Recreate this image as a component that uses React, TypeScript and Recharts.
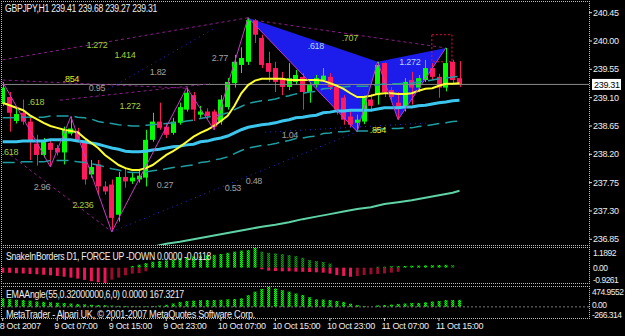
import React from "react";
import {
  ComposedChart,
  Bar,
  Line,
  XAxis,
  YAxis,
  ReferenceLine,
  ReferenceArea,
  ReferenceDot,
} from "recharts";

// ---- GBPJPY H1 candles (8 Oct 23:00 .. 11 Oct 18:00) ----
const opens = [
  239.00, 239.11, 238.73, 238.86, 238.72, 238.37, 238.19, 238.38, 238.30, 238.23,
  238.53, 238.56, 238.40, 237.88, 238.04, 237.69, 237.72, 237.24, 237.84, 237.77,
  237.80, 237.83, 238.43, 238.72, 238.64, 238.54, 238.70, 238.91, 239.14, 238.83,
  238.88, 238.88, 238.72, 238.95, 239.33, 239.62, 239.67, 240.33, 240.05, 239.65,
  239.57, 239.41, 239.27, 239.35, 239.43, 239.19, 239.30, 239.38, 239.43, 239.27,
  239.10, 238.80, 238.70, 238.72, 239.07, 239.14, 239.65, 239.22, 239.02, 238.95,
  239.38, 239.26, 239.38, 239.57, 239.43, 239.26, 239.67, 239.41,
];
const highs = [
  239.35, 239.19, 238.95, 239.07, 238.78, 238.51, 238.46, 238.43, 238.35, 238.64,
  238.80, 238.62, 238.46, 238.11, 238.11, 237.77, 237.80, 237.92, 237.99, 237.92,
  237.95, 238.59, 238.86, 239.02, 238.68, 238.78, 239.02, 239.26, 239.19, 238.97,
  238.93, 238.91, 239.14, 239.41, 239.78, 239.90, 240.37, 240.35, 240.10, 239.83,
  239.67, 239.51, 239.65, 239.54, 239.49, 239.35, 239.46, 239.57, 239.49, 239.30,
  239.14, 238.91, 238.83, 239.13, 239.15, 239.67, 239.66, 239.27, 239.19, 239.41,
  239.51, 239.46, 239.70, 239.65, 239.48, 239.89, 239.70, 239.68,
];
const lows = [
  238.97, 238.56, 238.69, 238.67, 238.11, 238.02, 238.15, 238.00, 238.18, 238.04,
  238.50, 238.40, 237.72, 237.83, 237.56, 237.56, 236.97, 237.13, 237.67, 237.73,
  237.75, 237.69, 238.40, 238.59, 238.46, 238.51, 238.67, 238.88, 238.73, 238.78,
  238.76, 238.59, 238.67, 238.91, 239.26, 239.49, 239.62, 239.97, 239.57, 239.35,
  239.19, 239.14, 239.22, 239.30, 238.91, 239.02, 239.26, 239.35, 239.22, 238.83,
  238.67, 238.62, 238.56, 238.68, 238.88, 238.99, 239.11, 239.06, 238.75, 238.88,
  238.99, 239.19, 239.35, 239.38, 239.10, 239.20, 239.33, 239.27,
];
const closes = [
  239.26, 238.86, 238.84, 238.72, 238.40, 238.19, 238.40, 238.27, 238.23, 238.59,
  238.61, 238.43, 237.80, 238.00, 237.69, 237.61, 237.19, 237.84, 237.77, 237.83,
  237.86, 238.43, 238.72, 238.62, 238.51, 238.72, 238.95, 239.18, 238.91, 238.88,
  238.81, 238.64, 239.07, 239.35, 239.67, 239.73, 240.33, 240.10, 239.62, 239.51,
  239.35, 239.27, 239.41, 239.46, 239.19, 239.30, 239.41, 239.45, 239.27, 238.91,
  238.75, 238.67, 238.75, 239.10, 238.97, 239.62, 239.19, 239.11, 238.95, 239.35,
  239.26, 239.41, 239.57, 239.43, 239.26, 239.65, 239.38, 239.31,
];

// moving averages
const maYellow = [
  239.02, 238.98, 238.94, 238.90, 238.82, 238.76, 238.70, 238.65, 238.62, 238.59,
  238.57, 238.55, 238.46, 238.38, 238.30, 238.19, 238.11, 238.03, 237.98, 237.95,
  237.95, 237.98, 238.03, 238.11, 238.19, 238.25, 238.32, 238.40, 238.48, 238.54,
  238.59, 238.65, 238.73, 238.81, 238.97, 239.17, 239.30, 239.37, 239.40, 239.40,
  239.40, 239.40, 239.38, 239.38, 239.38, 239.38, 239.38, 239.37, 239.33, 239.29,
  239.24, 239.17, 239.11, 239.11, 239.13, 239.16, 239.17, 239.17, 239.16, 239.16,
  239.17, 239.21, 239.24, 239.25, 239.29, 239.32, 239.32, 239.33,
];
const maCyan = [
  238.40, 238.40, 238.40, 238.41, 238.41, 238.41, 238.41, 238.43, 238.43, 238.43,
  238.43, 238.41, 238.40, 238.38, 238.36, 238.33, 238.30, 238.28, 238.25, 238.24,
  238.24, 238.25, 238.27, 238.28, 238.30, 238.32, 238.33, 238.35, 238.36, 238.40,
  238.41, 238.44, 238.46, 238.49, 238.54, 238.59, 238.63, 238.65, 238.67, 238.68,
  238.70, 238.73, 238.75, 238.78, 238.79, 238.81, 238.82, 238.86, 238.87, 238.89,
  238.89, 238.90, 238.90, 238.90, 238.90, 238.92, 238.94, 238.94, 238.94, 238.95,
  238.95, 238.97, 238.98, 239.00, 239.02, 239.03, 239.05, 239.06,
];
const bandUpper = [
  238.78, 238.78, 238.78, 238.79, 238.79, 238.79, 238.79, 238.81, 238.81, 238.81,
  238.81, 238.79, 238.78, 238.76, 238.72, 238.70, 238.69, 238.67, 238.66, 238.65,
  238.65, 238.66, 238.67, 238.68, 238.69, 238.70, 238.71, 238.73, 238.74, 238.77,
  238.79, 238.81, 238.83, 238.86, 238.91, 238.96, 239.01, 239.03, 239.05, 239.06,
  239.08, 239.11, 239.13, 239.16, 239.17, 239.19, 239.20, 239.24, 239.25, 239.27,
  239.27, 239.28, 239.28, 239.28, 239.28, 239.30, 239.32, 239.32, 239.32, 239.33,
  239.33, 239.35, 239.36, 239.38, 239.40, 239.41, 239.43, 239.44,
];
const bandLower = [
  238.07, 238.07, 238.07, 238.08, 238.08, 238.08, 238.08, 238.10, 238.10, 238.10,
  238.10, 238.08, 238.07, 238.05, 238.03, 238.00, 237.97, 237.95, 237.92, 237.91,
  237.91, 237.92, 237.94, 237.95, 237.97, 237.99, 238.00, 238.02, 238.03, 238.07,
  238.08, 238.11, 238.13, 238.16, 238.21, 238.26, 238.30, 238.32, 238.34, 238.35,
  238.37, 238.40, 238.42, 238.45, 238.46, 238.48, 238.49, 238.53, 238.54, 238.56,
  238.56, 238.57, 238.57, 238.57, 238.57, 238.59, 238.61, 238.61, 238.61, 238.62,
  238.62, 238.64, 238.65, 238.67, 238.69, 238.70, 238.72, 238.73,
];
// slow MA (only the part that is visible)
const maSlowPts = [
  [20, 236.68], [22, 236.73], [24, 236.78], [26, 236.81], [28, 236.85], [30, 236.89],
  [32, 236.93], [34, 236.97], [36, 237.01], [38, 237.05], [40, 237.08], [42, 237.12],
  [44, 237.17], [46, 237.21], [48, 237.25], [50, 237.29], [52, 237.33], [54, 237.36],
  [56, 237.41], [58, 237.44], [60, 237.47], [62, 237.51], [64, 237.55], [66, 237.59],
  [67, 237.62],
];
const zigzagPts = [
  [0, 239.35], [7, 238.0], [10, 238.8], [16, 236.97], [27, 239.26], [31, 238.59],
  [36, 240.37], [52, 238.56], [55, 239.67], [58, 238.75], [65, 239.89],
];
// butterfly X A B C D
const patternPts = [[36, 240.37], [52, 238.56], [55, 239.67], [58, 238.75], [65, 239.89]];

// fibo lines [i1, p1, i2, p2]
const fiboDashed = [
  [0, 239.70, 36, 240.37],
  [37, 240.33, 65, 239.89],
  [0, 239.38, 27, 239.25],
  [8.4, 239.06, 30.4, 239.32],
  [1.1, 238.19, 16, 236.97],
];
const projDotted = [
  [13.5, 239.11, 31.2, 240.21],
  [16, 236.97, 52, 238.56],
  [38.5, 238.55, 62.7, 238.70],
];

// fibo ratio labels [text, i, p]
const greenLabels = [
  ["1.272", 13.83, 239.936], ["1.414", 17.93, 239.778], [".618", 4.88, 239.031],
  ["1.272", 18.67, 238.967], [".618", 1.07, 238.237], ["2.236", 11.77, 237.395],
  [".707", 50.92, 240.048],
];
const yellowLabels = [[".854", 10.01, 239.396], [".854", 55.03, 238.586]];
const grayLabels = [
  ["1.82", 22.77, 239.508], ["0.95", 13.83, 239.253], ["2.96", 5.76, 237.681],
  ["0.27", 23.8, 237.713], ["2.77", 31.86, 239.73], ["1.04", 42.13, 238.507],
  ["0.53", 33.77, 237.665], ["0.48", 36.85, 237.776],
];
const blueLabels = [[".618", 45.94, 239.921], ["1.272", 59.72, 239.666]];

const priceTicks = [236.85, 237.3, 237.75, 238.2, 238.65, 239.1, 239.55, 240.0, 240.45];
const lastPrice = 239.31;

// SnakeInBorders histogram
const snakeUp = [
  0, 0, 0, 0, 0, 0, 0, 0, 0, 0, 0, 0, 0, 0, 0, 0, 0, 0, 0,
  0.10, 0.18, 0.28, 0.36, 0.40, 0.44, 0.50, 0.58, 0.63, 0.68, 0.72, 0.77, 0.78, 0.83, 0.90, 0.97, 1.03, 1.06, 1.1892,
  0, 0, 0, 0, 0, 0, 0, 0, 0, 0, 0, 0, 0, 0, 0, 0, 0,
  0.05, 0.06, 0.08, 0.09, 0.10, 0.12, 0.13, 0.14, 0.15, 0.16, 0.17,
  0, 0,
];
const snakeUpWeak = [
  0, 0, 0, 0, 0, 0, 0, 0, 0, 0, 0, 0, 0, 0, 0, 0, 0, 0, 0, 0,
  0, 0, 0, 0, 0, 0, 0, 0, 0, 0, 0, 0, 0, 0, 0, 0, 0, 0,
  0.97, 0.90, 0.86, 0.82, 0.76, 0.70, 0.60, 0.46, 0.40, 0.35, 0.25,
  0, 0, 0, 0, 0, 0, 0, 0, 0, 0, 0, 0, 0, 0, 0, 0, 0,
  0.16, 0,
];
const snakeDown = [
  -0.30, -0.31, -0.33, -0.35, -0.38, -0.40, -0.43, -0.46, -0.50, -0.55, -0.60, -0.66, -0.74, -0.82, -0.88, -0.9261,
  0, 0, 0, 0, 0, 0, 0, 0, 0, 0, 0, 0, 0, 0, 0, 0, 0, 0, 0, 0, 0, 0,
  -0.10, -0.18, -0.20, -0.22, -0.22, -0.24, -0.25, -0.26, -0.28, -0.30, -0.36, -0.45, -0.50, -0.55,
  0, 0, 0, 0, 0, 0, 0, 0, 0, 0, 0, 0, 0, 0, 0, 0,
];
const snakeDownWeak = [
  0, 0, 0, 0, 0, 0, 0, 0, 0, 0, 0, 0, 0, 0, 0, 0,
  -0.72, -0.60, -0.46, -0.36, -0.33, -0.22,
  0, 0, 0, 0, 0, 0, 0, 0, 0, 0, 0, 0, 0, 0, 0, 0, 0, 0, 0, 0, 0, 0, 0, 0, 0, 0, 0, 0, 0, 0,
  -0.50, -0.45, -0.40, -0.38, -0.35, -0.30, -0.25,
  0, 0, 0, 0, 0, 0, 0, 0,
  -0.0118,
];

// EMAAngle histogram
const emaAngle = [
  205, 185, 170, 165, 150, 130, 120, 110, 100, 90,
  80, 70, 60, 50, 45, 40, 30, 25, 20, 18,
  15, 15, 20, 30, 50, 80, 120, 140, 150, 160,
  165, 165, 170, 180, 190, 205, 280, 364, 430, 474.96,
  440, 400, 364, 320, 285, 230, 180, 175, 165, 140,
  120, 75, 40, 20, 0, 35, 45, 55, 70, 80,
  95, 95, 110, 130, 140, 165, 165, 167.32,
];

const timeTicks = [0, 8, 16, 24, 32, 40, 48, 56, 64];
const timeLabels = [
  "8 Oct 2007", "9 Oct 07:00", "9 Oct 15:00", "9 Oct 23:00", "10 Oct 07:00",
  "10 Oct 15:00", "10 Oct 23:00", "11 Oct 07:00", "11 Oct 15:00",
];

const BULL = "#00FF00";
const BEAR = "#FF1A5E";
const TEXT = "#EEEEEE";
const FONT = "'Liberation Sans', Arial, sans-serif";
const X_DOMAIN = [-0.1, 86];

const zzMap = new Map(zigzagPts.map(([i, p]) => [i, p]));
const slowMap = new Map(maSlowPts.map(([i, p]) => [i, p]));

const bars = opens.map((o, i) => ({
  i,
  o,
  h: highs[i],
  l: lows[i],
  c: closes[i],
  range: [lows[i], highs[i]],
  yellow: maYellow[i],
  cyan: maCyan[i],
  upper: bandUpper[i],
  lower: bandLower[i],
  slow: slowMap.has(i) ? slowMap.get(i) : null,
  zz: zzMap.has(i) ? zzMap.get(i) : null,
  sUp: snakeUp[i],
  sUpW: snakeUpWeak[i],
  sDn: snakeDown[i],
  sDnW: snakeDownWeak[i],
  ema: emaAngle[i],
}));

const Candle = (props: any) => {
  const { x, y, width, height, payload } = props;
  if (!payload) return null;
  const { o, h, l, c } = payload;
  const color = c >= o ? BULL : BEAR;
  const top = Math.min(y, y + height);
  const hgt = Math.abs(height);
  const k = hgt / (h - l || 1);
  const cx = Math.round(x + width / 2) + 0.5;
  const bTop = top + (h - Math.max(o, c)) * k;
  const bBot = top + (h - Math.min(o, c)) * k;
  return (
    <g>
      <line x1={cx} x2={cx} y1={top} y2={top + hgt} stroke={color} strokeWidth={1} />
      <rect x={Math.round(x)} y={bTop} width={width} height={Math.max(1, bBot - bTop)} fill={color} />
    </g>
  );
};

const Butterfly = (props: any) => {
  const { x, y, width, height } = props;
  const is = patternPts.map((p) => p[0]);
  const ps = patternPts.map((p) => p[1]);
  const i0 = Math.min(...is), i1 = Math.max(...is);
  const p0 = Math.min(...ps), p1 = Math.max(...ps);
  const pt = (k: number) =>
    `${x + ((patternPts[k][0] - i0) / (i1 - i0)) * width},${y + ((p1 - patternPts[k][1]) / (p1 - p0)) * height}`;
  return (
    <g>
      <polygon points={[pt(0), pt(1), pt(2)].join(" ")} fill="#1C1CEB" />
      <polygon points={[pt(2), pt(3), pt(4)].join(" ")} fill="#1C1CEB" />
    </g>
  );
};

const PriceBox = (props: any) => {
  const vb = props.viewBox || {};
  const right = (vb.x || 0) + (vb.width || 0);
  const yy = vb.y || 0;
  return (
    <g>
      <rect x={right + 3} y={yy - 5.5} width={29} height={11} fill="#FFFFFF" />
      <text x={right + 5} y={yy + 0.5} fill="#000" fontSize={9} dominantBaseline="central">
        {lastPrice.toFixed(2)}
      </text>
    </g>
  );
};

const priceTick = (p: any) => (
  <text x={p.x} y={p.y} fill={TEXT} fontSize={9} dominantBaseline="central">
    {Number(p.payload.value).toFixed(2)}
  </text>
);

const subTick = (
  labels: Record<string, string>,
  top: number,
  bottom: number,
  shiftTop: number,
  shiftBottom: number,
  shiftZero: number
) =>
  (p: any) => {
    const v = p.payload.value;
    const dy = v === top ? shiftTop : v === bottom ? shiftBottom : shiftZero;
    return (
      <text x={p.x} y={p.y + dy} fill={TEXT} fontSize={8.5} letterSpacing="-0.5px" dominantBaseline="central">
        {labels[String(v)]}
      </text>
    );
  };

const timeTick = (p: any) => {
  const k = timeTicks.indexOf(p.payload.value);
  return (
    <text x={p.x - 3} y={p.y + 5} fill={TEXT} fontSize={9} dominantBaseline="central">
      {timeLabels[k]}
    </text>
  );
};

const labelDots = (list: any[], color: string) =>
  list.map(([t, i, p], k) => (
    <ReferenceDot
      key={`${t}-${k}-${color}`}
      x={i}
      y={p}
      r={0}
      fill="none"
      stroke="none"
      label={{ value: t, position: "center", fill: color, fontSize: 9 }}
    />
  ));

function MainChart() {
  return (
    <ComposedChart width={625} height={246} data={bars} margin={{ top: 2, right: 0, bottom: 1, left: 2 }}>
      <XAxis dataKey="i" type="number" domain={X_DOMAIN} hide allowDataOverflow />
      <YAxis
        orientation="right"
        type="number"
        domain={[236.7593, 240.6196]}
        allowDataOverflow
        ticks={priceTicks}
        interval={0}
        width={36}
        axisLine={false}
        tickLine={{ stroke: "#DDDDDD" }}
        tickSize={3}
        tickMargin={1}
        tick={priceTick}
      />
      <ReferenceArea
        x1={36}
        x2={65}
        y1={238.56}
        y2={240.37}
        shape={(p: any) => <Butterfly {...p} />}
      />
      <ReferenceArea
        x1={62.95}
        x2={65.9}
        y1={239.67}
        y2={240.1}
        fill="none"
        fillOpacity={0}
        stroke="#E0103C"
        strokeDasharray="2 2"
      />
      <ReferenceLine y={lastPrice} stroke="#8A8A8A" label={(p: any) => <PriceBox {...p} />} />
      {fiboDashed.map(([a, b, c, d], k) => (
        <ReferenceLine
          key={`fd${k}`}
          segment={[{ x: a, y: b }, { x: c, y: d }]}
          stroke="#8E1C8E"
          strokeDasharray="3 3"
        />
      ))}
      {projDotted.map(([a, b, c, d], k) => (
        <ReferenceLine
          key={`pd${k}`}
          segment={[{ x: a, y: b }, { x: c, y: d }]}
          stroke="#2A2AD8"
          strokeDasharray="1 4"
        />
      ))}
      <Line dataKey="slow" stroke="#5FD3A5" strokeWidth={2} dot={false} connectNulls isAnimationActive={false} />
      <Line dataKey="upper" stroke="#1F9EA2" strokeWidth={1.5} strokeDasharray="12 6" dot={false} isAnimationActive={false} />
      <Line dataKey="lower" stroke="#1F9EA2" strokeWidth={1.5} strokeDasharray="12 6" dot={false} isAnimationActive={false} />
      <Bar dataKey="range" barSize={5} shape={(p: any) => <Candle {...p} />} isAnimationActive={false} />
      <Line dataKey="cyan" stroke="#3CC6EE" strokeWidth={3} dot={false} isAnimationActive={false} />
      <Line dataKey="yellow" stroke="#FFFF30" strokeWidth={2} dot={false} isAnimationActive={false} />
      <Line dataKey="zz" stroke="#C63CC6" strokeWidth={1} dot={false} connectNulls isAnimationActive={false} />
      {labelDots(greenLabels, "#A6CF38")}
      {labelDots(yellowLabels, "#E8E820")}
      {labelDots(grayLabels, "#A0A0A0")}
      {labelDots(blueLabels, "#B8D4FF")}
    </ComposedChart>
  );
}

function SnakePanel() {
  return (
    <ComposedChart width={625} height={37} data={bars} stackOffset="sign" margin={{ top: 1, right: 0, bottom: 1, left: 2 }}>
      <defs>
        <pattern id="snGreen" width="2" height="2" patternUnits="userSpaceOnUse">
          <rect width="2" height="2" fill="#00FF00" />
          <rect width="1" height="1" fill="#007A00" />
          <rect x="1" y="1" width="1" height="1" fill="#007A00" />
        </pattern>
        <pattern id="snGreenW" width="2" height="2" patternUnits="userSpaceOnUse">
          <rect width="2" height="2" fill="#139A13" />
          <rect width="1" height="1" fill="#0A4A0A" />
          <rect x="1" y="1" width="1" height="1" fill="#0A4A0A" />
        </pattern>
      </defs>
      <XAxis dataKey="i" type="number" domain={X_DOMAIN} hide allowDataOverflow />
      <YAxis
        orientation="right"
        type="number"
        domain={[-0.9261, 1.1892]}
        allowDataOverflow
        ticks={[1.1892, 0, -0.9261]}
        interval={0}
        width={36}
        axisLine={false}
        tickLine={false}
        tickSize={3}
        tickMargin={1}
        tick={subTick({ "1.1892": "1.1892", "0": "0.00", "-0.9261": "-0.9261" }, 1.1892, -0.9261, 5, -3, 0)}
      />
      <Bar dataKey="sUp" stackId="s" barSize={3} fill="url(#snGreen)" isAnimationActive={false} />
      <Bar dataKey="sUpW" stackId="s" barSize={3} fill="url(#snGreenW)" isAnimationActive={false} />
      <Bar dataKey="sDn" stackId="s" barSize={3} fill="#F0145A" isAnimationActive={false} />
      <Bar dataKey="sDnW" stackId="s" barSize={3} fill="#9A0C2C" isAnimationActive={false} />
    </ComposedChart>
  );
}

function EmaPanel() {
  return (
    <ComposedChart width={625} height={50} data={bars} margin={{ top: 1, right: 0, bottom: 0, left: 2 }}>
      <defs>
        <pattern id="emGreen" width="2" height="2" patternUnits="userSpaceOnUse">
          <rect width="2" height="2" fill="#00FF00" />
          <rect width="1" height="1" fill="#007A00" />
          <rect x="1" y="1" width="1" height="1" fill="#007A00" />
        </pattern>
      </defs>
      <XAxis
        dataKey="i"
        type="number"
        domain={X_DOMAIN}
        allowDataOverflow
        ticks={timeTicks}
        interval={0}
        height={18}
        axisLine={false}
        tickLine={{ stroke: "#CCCCCC" }}
        tickSize={3}
        tickMargin={0}
        tick={timeTick}
      />
      <YAxis
        orientation="right"
        type="number"
        domain={[-266.314, 474.9552]}
        allowDataOverflow
        ticks={[474.9552, 0, -266.314]}
        interval={0}
        width={36}
        axisLine={false}
        tickLine={false}
        tickSize={3}
        tickMargin={0}
        tick={subTick({ "474.9552": "474.9552", "0": "0.00", "-266.314": "-266.314" }, 474.9552, -266.314, 5, -3, -1.5)}
      />
      <ReferenceLine y={0} stroke="#7A7A7A" strokeDasharray="2 2" />
      <Bar dataKey="ema" barSize={3} fill="url(#emGreen)" isAnimationActive={false} />
    </ComposedChart>
  );
}

const frame = (top: number, height: number) => ({
  position: "absolute" as const,
  left: 1,
  top,
  width: 589,
  height,
  boxSizing: "border-box" as const,
  border: "1px dotted #BDBDBD",
  pointerEvents: "none" as const,
});

export default function App() {
  return (
    <div
      style={{
        position: "absolute",
        left: 0,
        top: 0,
        width: 625,
        height: 336,
        background: "#000",
        overflow: "hidden",
        fontFamily: FONT,
        letterSpacing: "-0.3px",
      }}
    >
      <div style={{ position: "absolute", left: 0, top: 0 }}>
        <MainChart />
      </div>
      <div style={{ position: "absolute", left: 0, top: 247 }}>
        <SnakePanel />
      </div>
      <div style={{ position: "absolute", left: 0, top: 286 }}>
        <EmaPanel />
      </div>
      <div style={frame(1, 245)} />
      <div style={frame(247, 37)} />
      <div style={frame(286, 33)} />
      <svg width={625} height={336} style={{ position: "absolute", left: 0, top: 0, pointerEvents: "none" }}>
        <text x={5} y={8.5} fill={TEXT} fontSize={10} dominantBaseline="central" textLength={152} lengthAdjust="spacingAndGlyphs">
          GBPJPY,H1  239.41 239.68 239.27 239.31
        </text>
        <text x={6} y={256} fill={TEXT} fontSize={10} dominantBaseline="central" textLength={205} lengthAdjust="spacingAndGlyphs">
          SnakeInBorders D1, FORCE UP -DOWN  0.0000 -0.0118
        </text>
        <text x={6} y={294.5} fill={TEXT} fontSize={10} dominantBaseline="central" textLength={178} lengthAdjust="spacingAndGlyphs">
          EMAAngle(55,0.32000000,6,0) 0.0000 167.3217
        </text>
        <text x={6} y={314} fill={TEXT} fontSize={10} dominantBaseline="central" textLength={249} lengthAdjust="spacingAndGlyphs">
          MetaTrader - Alpari UK, © 2001-2007 MetaQuotes Software Corp.
        </text>
      </svg>
    </div>
  );
}
